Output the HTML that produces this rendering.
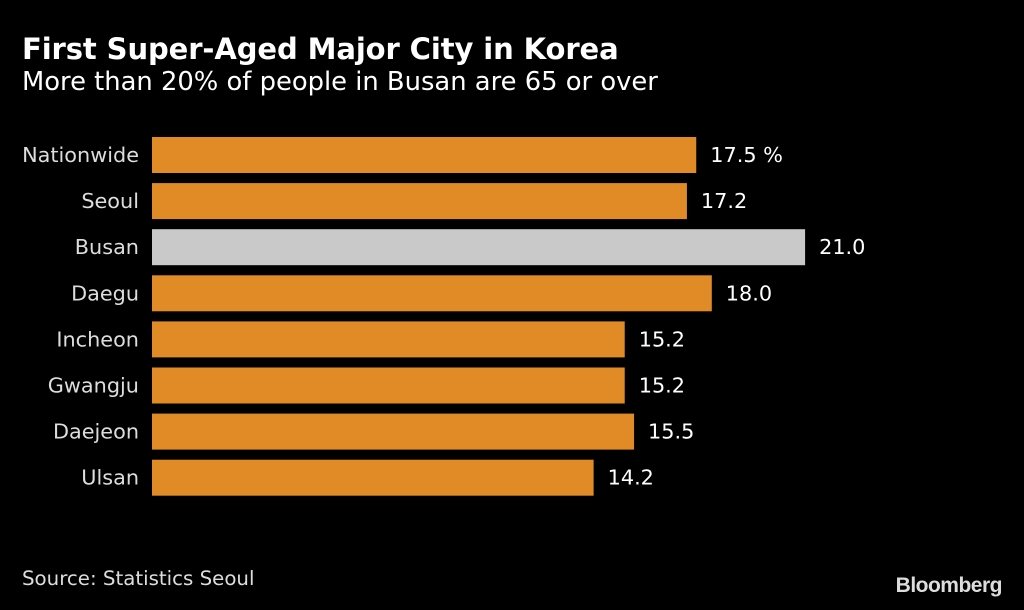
<!DOCTYPE html>
<html><head><meta charset="utf-8"><style>
body{margin:0;background:#000;width:1024px;height:610px;overflow:hidden;font-family:"DejaVu Sans","Liberation Sans",sans-serif;color:#fff}
#title{position:absolute;left:22px;top:32px;font-size:29px;font-weight:bold;letter-spacing:-0.1px}
#sub{position:absolute;left:22px;top:67px;font-size:25.8px}
#src{position:absolute;left:22px;top:567px;font-size:19.8px;color:#ddd}
#logo{position:absolute;right:22px;top:574px;font-size:21px;font-weight:bold;color:#ddd;letter-spacing:-0.5px;font-family:"Liberation Sans",sans-serif}
svg{position:absolute;left:0;top:0}
</style></head><body>
<div id="title">First Super-Aged Major City in Korea</div>
<div id="sub">More than 20% of people in Busan are 65 or over</div>
<svg id="chart" width="1024" height="610"></svg>
<div id="src">Source: Statistics Seoul</div>
<div id="logo">Bloomberg</div>
<script>
const categories=["Nationwide","Seoul","Busan","Daegu","Incheon","Gwangju","Daejeon","Ulsan"];
const values=[17.5,17.2,21.0,18.0,15.2,15.2,15.5,14.2];
const valueLabels=["17.5 %","17.2","21.0","18.0","15.2","15.2","15.5","14.2"];
const highlight="Busan";
const x0=152,scale=31.1,top0=137,pitch=46.1,bh=36;
const xs=v=>x0+v*scale, ys=i=>top0+i*pitch;
const svg=document.getElementById('chart'),NS="http://www.w3.org/2000/svg";
categories.forEach((c,i)=>{
 const r=document.createElementNS(NS,'rect');
 r.setAttribute('x',x0);r.setAttribute('y',ys(i));r.setAttribute('width',xs(values[i])-x0);r.setAttribute('height',bh);
 r.setAttribute('fill',c===highlight?'#c9c9c9':'#e08b25');
 
 
 svg.appendChild(r);
 const t=document.createElementNS(NS,'text');
 t.setAttribute('x',139);t.setAttribute('y',ys(i)+bh/2+7);t.setAttribute('text-anchor','end');
 t.setAttribute('fill','#ddd');t.setAttribute('font-size','20.8');t.textContent=c;
 
 
 svg.appendChild(t);
 const v=document.createElementNS(NS,'text');
 v.setAttribute('x',xs(values[i])+14);v.setAttribute('y',ys(i)+bh/2+7);
 v.setAttribute('fill','#fff');v.setAttribute('font-size','20.8');v.textContent=valueLabels[i];
 
 
 svg.appendChild(v);
});
</script>
</body></html>
